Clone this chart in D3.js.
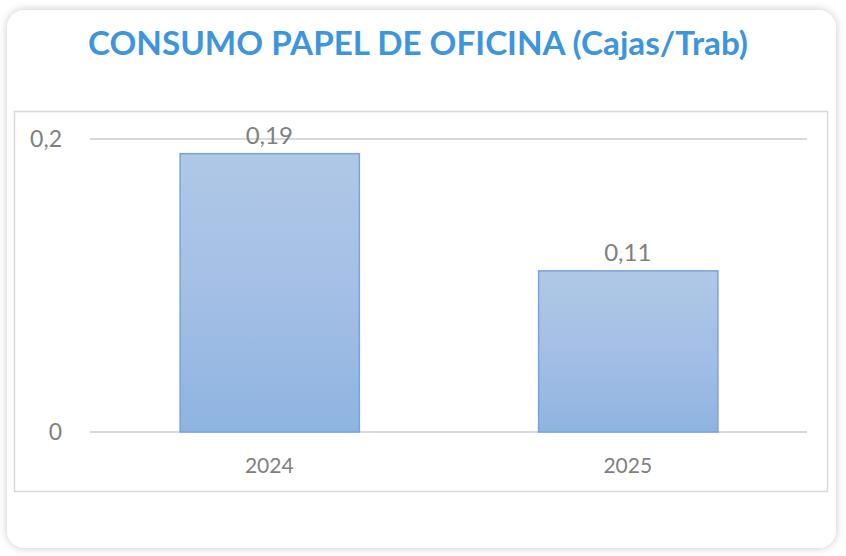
<!DOCTYPE html>
<meta charset="utf-8">
<script src="https://d3js.org/d3.v7.min.js"></script>
<style>
  body { margin: 0; background: #fff; font-family: Lato, "Open Sans", sans-serif; }
  .tick text { fill: #7f7f7f; }
</style>
<div id="chart"></div>
<script>
  // data
  var years = ["2024", "2025"];
  var consumo = [0.19, 0.11];
  var yTicks = [0, 0.2];
  var yTickLabels = ["0", "0,2"];
  var valueLabels = ["0,19", "0,11"];

  var W = 846, H = 556;

  var svg = d3.select("#chart").append("svg")
    .attr("width", W)
    .attr("height", H);

  var defs = svg.append("defs");

  // card shadow
  var f = defs.append("filter").attr("id", "shadow")
    .attr("x", "-5%").attr("y", "-5%").attr("width", "110%").attr("height", "110%");
  f.append("feDropShadow")
    .attr("dx", 0).attr("dy", 0).attr("stdDeviation", 4)
    .attr("flood-color", "#000").attr("flood-opacity", 0.22);

  // bar gradient
  var g = defs.append("linearGradient").attr("id", "barGrad")
    .attr("x1", 0).attr("y1", 0).attr("x2", 0).attr("y2", 1);
  g.append("stop").attr("offset", "0%").attr("stop-color", "#afc8e6");
  g.append("stop").attr("offset", "45%").attr("stop-color", "#a6c0e6");
  g.append("stop").attr("offset", "100%").attr("stop-color", "#8eb4e0");

  // card
  svg.append("rect")
    .attr("x", 7).attr("y", 10)
    .attr("width", 829).attr("height", 538)
    .attr("rx", 18).attr("ry", 18)
    .attr("fill", "#fff")
    .attr("filter", "url(#shadow)");

  // title
  svg.append("text")
    .attr("x", 418).attr("y", 55)
    .attr("text-anchor", "middle")
    .attr("textLength", 660)
    .attr("lengthAdjust", "spacingAndGlyphs")
    .style("font-family", "Lato, sans-serif")
    .style("font-weight", "bold")
    .style("font-size", "33px")
    .style("fill", "#3d95dc")
    .text("CONSUMO PAPEL DE OFICINA (Cajas/Trab)");

  // plot area box
  svg.append("rect")
    .attr("x", 14.5).attr("y", 111.5)
    .attr("width", 813).attr("height", 380)
    .attr("fill", "#fff")
    .attr("stroke", "#d9d9d9")
    .attr("stroke-width", 1.5);

  var plotLeft = 90, plotRight = 807, plotTop = 139, plotBottom = 432;

  var x = d3.scaleBand()
    .domain(years)
    .range([plotLeft, plotRight])
    .paddingInner(0.5)
    .paddingOuter(0.25);

  var y = d3.scaleLinear()
    .domain([0, 0.2])
    .range([plotBottom, plotTop]);

  // gridlines
  svg.append("g")
    .selectAll("line")
    .data(yTicks)
    .join("line")
    .attr("x1", plotLeft).attr("x2", plotRight)
    .attr("y1", function (d) { return y(d); })
    .attr("y2", function (d) { return y(d); })
    .attr("stroke", "#d9d9d9")
    .attr("stroke-width", 2);

  // y axis
  var yAxis = svg.append("g")
    .attr("transform", "translate(" + (plotLeft - 28) + ",0)")
    .call(d3.axisLeft(y).tickValues(yTicks).tickSize(0).tickPadding(0)
      .tickFormat(function (d, i) { return yTickLabels[i]; }));
  yAxis.select(".domain").remove();
  yAxis.selectAll("text")
    .style("font-family", "Lato, sans-serif")
    .style("font-size", "23px")
    .attr("dy", "0.32em");

  // bars
  svg.append("g")
    .selectAll("rect")
    .data(consumo)
    .join("rect")
    .attr("x", function (d, i) { return x(years[i]) + 0.5; })
    .attr("y", function (d) { return y(d); })
    .attr("width", x.bandwidth())
    .attr("height", function (d) { return y(0) - y(d); })
    .attr("fill", "url(#barGrad)")
    .attr("stroke", "#76a4da")
    .attr("stroke-width", 1.5);

  // value labels
  svg.append("g")
    .selectAll("text")
    .data(consumo)
    .join("text")
    .attr("x", function (d, i) { return x(years[i]) + x.bandwidth() / 2; })
    .attr("y", function (d) { return y(d) - 10; })
    .attr("text-anchor", "middle")
    .style("font-family", "Lato, sans-serif")
    .style("font-size", "24px")
    .style("fill", "#7f7f7f")
    .text(function (d, i) { return valueLabels[i]; });

  // x axis
  var xAxis = svg.append("g")
    .attr("transform", "translate(0," + plotBottom + ")")
    .call(d3.axisBottom(x).tickSize(0).tickPadding(26));
  xAxis.select(".domain").remove();
  xAxis.selectAll("text")
    .style("font-family", "Lato, sans-serif")
    .style("font-size", "21px");
</script>
